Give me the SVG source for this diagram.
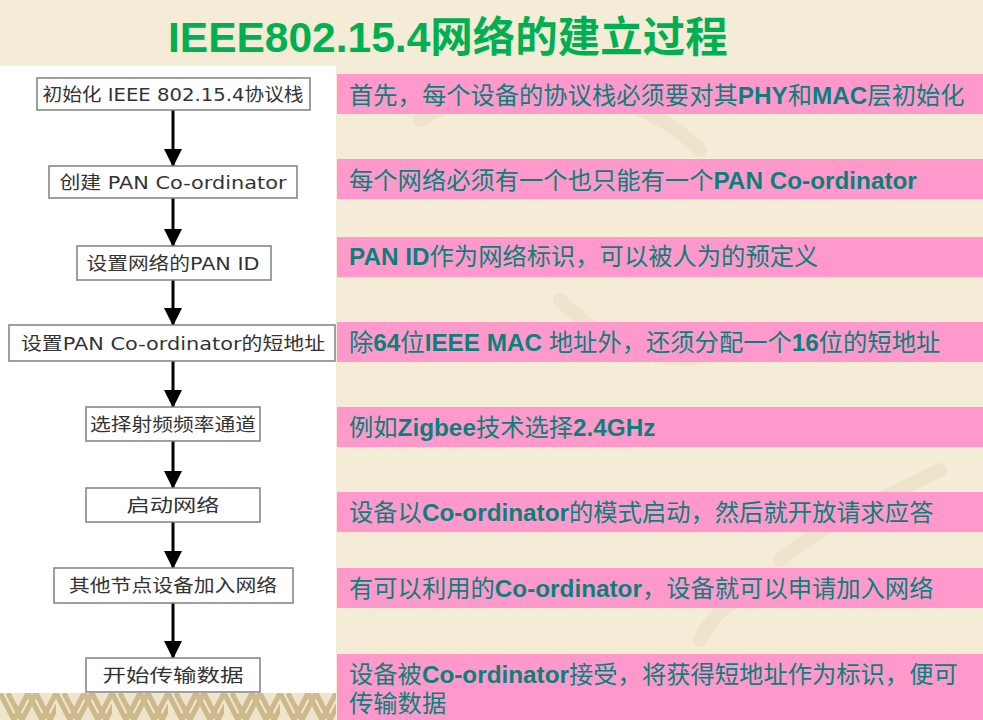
<svg xmlns="http://www.w3.org/2000/svg" width="983" height="720" viewBox="0 0 983 720">
  <defs>
    <style>
      .node rect { fill: #FFFFFF; stroke: #808080; stroke-width: 1.5; }
      .node text { font-family: "DejaVu Sans", "Noto Sans CJK SC", sans-serif; font-size: 18px; fill: #333333; text-anchor: middle; }
      .bar { fill: #FF99CC; }
      .desc { font-family: "Liberation Sans", "Noto Sans CJK SC", sans-serif; font-size: 24.3px; fill: #0A807A; }
      .desc .b { font-weight: bold; }
      .conn line { stroke: #000000; stroke-width: 3; }
    </style>
    <marker id="arrow" viewBox="0 0 18 18" refX="17" refY="9" markerWidth="18" markerHeight="18" markerUnits="userSpaceOnUse" orient="auto">
      <path d="M0,0 L18,9 L0,18 Z" fill="#000000"/>
    </marker>
    <pattern id="weave" x="0" y="693" width="56" height="27" patternUnits="userSpaceOnUse">
      <rect width="56" height="27" fill="#EFE5CC"/>
      <path d="M0,0 L14,27 M8,0 L22,27 M28,0 L14,27 M36,0 L22,27 M28,0 L42,27 M36,0 L50,27 M56,0 L42,27 M64,0 L50,27" stroke="#CDB98C" stroke-width="5" fill="none"/>
    </pattern>
  </defs>

  <!-- background -->
  <rect x="0" y="0" width="983" height="720" fill="#F5ECD8"/>
  <g fill="none" stroke="#E6DAC0" stroke-width="14" stroke-linecap="round" opacity="0.45">
    <path d="M420,120 C520,60 640,90 700,150"/>
    <path d="M560,300 C620,360 700,380 760,330"/>
    <path d="M780,560 C830,520 880,500 940,470"/>
    <path d="M700,640 C720,600 760,580 800,590"/>
  </g>

  <!-- left white panel -->
  <rect x="0" y="66" width="336" height="627" fill="#FFFFFF"/>
  <rect x="0" y="693" width="336" height="27" fill="url(#weave)"/>

  <!-- title -->
  <text x="168" y="52" font-family="Liberation Sans, Noto Sans CJK SC, sans-serif" font-size="42.5" font-weight="bold" fill="#00B050">IEEE802.15.4网络的建立过程</text>

  <!-- pink description bars -->
  <g id="descriptions">
    <rect class="bar" x="337" y="74" width="646" height="40"/>
    <rect class="bar" x="337" y="159" width="646" height="40"/>
    <rect class="bar" x="337" y="237" width="646" height="40"/>
    <rect class="bar" x="337" y="322" width="646" height="40"/>
    <rect class="bar" x="337" y="407" width="646" height="40"/>
    <rect class="bar" x="337" y="492" width="646" height="40"/>
    <rect class="bar" x="337" y="568" width="646" height="40"/>
    <rect class="bar" x="337" y="654" width="646" height="66"/>

    <text class="desc" x="349" y="104">首先，每个设备的协议栈必须要对其<tspan class="b">PHY</tspan>和<tspan class="b">MAC</tspan>层初始化</text>
    <text class="desc" x="349" y="189">每个网络必须有一个也只能有一个<tspan class="b">PAN Co-ordinator</tspan></text>
    <text class="desc" x="349" y="265"><tspan class="b">PAN ID</tspan>作为网络标识，可以被人为的预定义</text>
    <text class="desc" x="349" y="351">除<tspan class="b">64</tspan>位<tspan class="b">IEEE MAC </tspan>地址外，还须分配一个<tspan class="b">16</tspan>位的短地址</text>
    <text class="desc" x="349" y="436">例如<tspan class="b">Zigbee</tspan>技术选择<tspan class="b">2.4GHz</tspan></text>
    <text class="desc" x="349" y="521">设备以<tspan class="b">Co-ordinator</tspan>的模式启动，然后就开放请求应答</text>
    <text class="desc" x="349" y="597">有可以利用的<tspan class="b">Co-ordinator</tspan>，设备就可以申请加入网络</text>
    <text class="desc" x="349" y="683">设备被<tspan class="b">Co-ordinator</tspan>接受，将获得短地址作为标识，便可</text>
    <text class="desc" x="349" y="712">传输数据</text>
  </g>

  <!-- connectors -->
  <g id="connectors" class="conn">
    <line x1="173" y1="110" x2="173" y2="166" marker-end="url(#arrow)"/>
    <line x1="173" y1="198" x2="173" y2="246" marker-end="url(#arrow)"/>
    <line x1="173" y1="280" x2="173" y2="325" marker-end="url(#arrow)"/>
    <line x1="173" y1="361" x2="173" y2="407" marker-end="url(#arrow)"/>
    <line x1="173" y1="441" x2="173" y2="488" marker-end="url(#arrow)"/>
    <line x1="173" y1="522" x2="173" y2="568" marker-end="url(#arrow)"/>
    <line x1="173" y1="603" x2="173" y2="658" marker-end="url(#arrow)"/>
  </g>

  <!-- nodes -->
  <g id="node1" class="node">
    <rect x="37" y="78" width="273" height="32"/>
    <text x="173" y="101" textLength="261" lengthAdjust="spacingAndGlyphs">初始化 IEEE 802.15.4协议栈</text>
  </g>
  <g id="node2" class="node">
    <rect x="49" y="166" width="248" height="32"/>
    <text x="173" y="189" textLength="227" lengthAdjust="spacingAndGlyphs">创建 PAN Co-ordinator</text>
  </g>
  <g id="node3" class="node">
    <rect x="77" y="246" width="194" height="34"/>
    <text x="173" y="270" textLength="173" lengthAdjust="spacingAndGlyphs">设置网络的PAN ID</text>
  </g>
  <g id="node4" class="node">
    <rect x="9" y="325" width="326" height="36"/>
    <text x="173" y="350" textLength="304" lengthAdjust="spacingAndGlyphs">设置PAN Co-ordinator的短地址</text>
  </g>
  <g id="node5" class="node">
    <rect x="86" y="407" width="174" height="34"/>
    <text x="173" y="431" textLength="166" lengthAdjust="spacingAndGlyphs">选择射频频率通道</text>
  </g>
  <g id="node6" class="node">
    <rect x="86" y="488" width="174" height="34"/>
    <text x="173" y="512" textLength="93" lengthAdjust="spacingAndGlyphs">启动网络</text>
  </g>
  <g id="node7" class="node">
    <rect x="54" y="568" width="239" height="35"/>
    <text x="173" y="592" textLength="208" lengthAdjust="spacingAndGlyphs">其他节点设备加入网络</text>
  </g>
  <g id="node8" class="node">
    <rect x="86" y="658" width="174" height="34"/>
    <text x="173" y="682" textLength="141" lengthAdjust="spacingAndGlyphs">开始传输数据</text>
  </g>
</svg>
